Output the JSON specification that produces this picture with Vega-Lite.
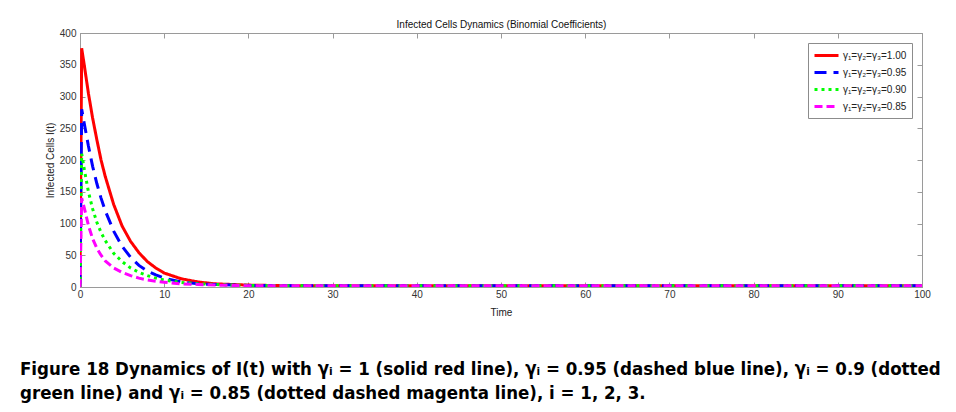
{
  "$schema": "https://vega.github.io/schema/vega-lite/v6.json",
  "width": 842,
  "height": 254,
  "autosize": {"type": "none"},
  "padding": {"left": 80, "top": 33, "right": 34, "bottom": 125},
  "background": "white",
  "config": {
    "view": {"stroke": "#9a9a9a", "strokeWidth": 1},
    "axis": {
      "labelFont": "Liberation Sans",
      "labelFontSize": 10,
      "labelColor": "#333333",
      "labelFlush": false,
      "titleFont": "Liberation Sans",
      "titleFontSize": 10,
      "titleFontWeight": "normal",
      "titleColor": "#222222",
      "domainColor": "#9a9a9a",
      "tickColor": "#9a9a9a",
      "grid": false
    }
  },
  "title": {
    "text": [
      "Figure 18  Dynamics of I(t) with γᵢ = 1 (solid red line), γᵢ = 0.95 (dashed blue line), γᵢ = 0.9 (dotted",
      "green line) and γᵢ = 0.85 (dotted dashed magenta line), i = 1, 2, 3."
    ],
    "orient": "bottom",
    "anchor": "start",
    "frame": "group",
    "offset": 43,
    "dx": -60,
    "font": "DejaVu Sans Condensed, Liberation Sans",
    "fontSize": 18.5,
    "fontWeight": "bold",
    "color": "#000000",
    "lineHeight": 24
  },
  "data": {
    "values": [
      {"g": "1.00", "t": 0, "I": 0}, {"g": "1.00", "t": 0.2, "I": 376}, {"g": "1.00", "t": 0.5, "I": 350}, {"g": "1.00", "t": 1, "I": 305}, {"g": "1.00", "t": 1.5, "I": 266}, {"g": "1.00", "t": 2, "I": 232}, {"g": "1.00", "t": 2.5, "I": 200}, {"g": "1.00", "t": 3, "I": 174}, {"g": "1.00", "t": 4, "I": 130}, {"g": "1.00", "t": 5, "I": 96}, {"g": "1.00", "t": 6, "I": 72}, {"g": "1.00", "t": 7, "I": 54}, {"g": "1.00", "t": 8, "I": 40}, {"g": "1.00", "t": 9, "I": 30}, {"g": "1.00", "t": 10, "I": 22}, {"g": "1.00", "t": 12, "I": 13}, {"g": "1.00", "t": 14, "I": 8}, {"g": "1.00", "t": 16, "I": 5}, {"g": "1.00", "t": 18, "I": 4}, {"g": "1.00", "t": 20, "I": 3}, {"g": "1.00", "t": 25, "I": 2}, {"g": "1.00", "t": 30, "I": 2}, {"g": "1.00", "t": 40, "I": 2}, {"g": "1.00", "t": 50, "I": 2}, {"g": "1.00", "t": 60, "I": 2}, {"g": "1.00", "t": 70, "I": 2}, {"g": "1.00", "t": 80, "I": 2}, {"g": "1.00", "t": 90, "I": 2}, {"g": "1.00", "t": 100, "I": 2},
      {"g": "0.95", "t": 0, "I": 0}, {"g": "0.95", "t": 0.2, "I": 280}, {"g": "0.95", "t": 0.5, "I": 258}, {"g": "0.95", "t": 1, "I": 222}, {"g": "0.95", "t": 1.5, "I": 190}, {"g": "0.95", "t": 2, "I": 163}, {"g": "0.95", "t": 2.5, "I": 140}, {"g": "0.95", "t": 3, "I": 120}, {"g": "0.95", "t": 4, "I": 88}, {"g": "0.95", "t": 5, "I": 64}, {"g": "0.95", "t": 6, "I": 47}, {"g": "0.95", "t": 7, "I": 34}, {"g": "0.95", "t": 8, "I": 25}, {"g": "0.95", "t": 9, "I": 19}, {"g": "0.95", "t": 10, "I": 14}, {"g": "0.95", "t": 12, "I": 8}, {"g": "0.95", "t": 14, "I": 5}, {"g": "0.95", "t": 16, "I": 4}, {"g": "0.95", "t": 18, "I": 3}, {"g": "0.95", "t": 20, "I": 2.5}, {"g": "0.95", "t": 25, "I": 2}, {"g": "0.95", "t": 30, "I": 2}, {"g": "0.95", "t": 40, "I": 2}, {"g": "0.95", "t": 50, "I": 2}, {"g": "0.95", "t": 60, "I": 2}, {"g": "0.95", "t": 70, "I": 2}, {"g": "0.95", "t": 80, "I": 2}, {"g": "0.95", "t": 90, "I": 2}, {"g": "0.95", "t": 100, "I": 2},
      {"g": "0.90", "t": 0, "I": 0}, {"g": "0.90", "t": 0.2, "I": 210}, {"g": "0.90", "t": 0.5, "I": 186}, {"g": "0.90", "t": 1, "I": 150}, {"g": "0.90", "t": 1.5, "I": 123}, {"g": "0.90", "t": 2, "I": 102}, {"g": "0.90", "t": 2.5, "I": 86}, {"g": "0.90", "t": 3, "I": 73}, {"g": "0.90", "t": 4, "I": 53}, {"g": "0.90", "t": 5, "I": 40}, {"g": "0.90", "t": 6, "I": 30}, {"g": "0.90", "t": 7, "I": 23}, {"g": "0.90", "t": 8, "I": 18}, {"g": "0.90", "t": 9, "I": 14}, {"g": "0.90", "t": 10, "I": 11}, {"g": "0.90", "t": 12, "I": 7}, {"g": "0.90", "t": 14, "I": 5}, {"g": "0.90", "t": 16, "I": 4}, {"g": "0.90", "t": 18, "I": 3}, {"g": "0.90", "t": 20, "I": 2.5}, {"g": "0.90", "t": 25, "I": 2}, {"g": "0.90", "t": 30, "I": 2}, {"g": "0.90", "t": 40, "I": 2}, {"g": "0.90", "t": 50, "I": 2}, {"g": "0.90", "t": 60, "I": 2}, {"g": "0.90", "t": 70, "I": 2}, {"g": "0.90", "t": 80, "I": 2}, {"g": "0.90", "t": 90, "I": 2}, {"g": "0.90", "t": 100, "I": 2},
      {"g": "0.85", "t": 0, "I": 0}, {"g": "0.85", "t": 0.2, "I": 140}, {"g": "0.85", "t": 0.5, "I": 125}, {"g": "0.85", "t": 1, "I": 97}, {"g": "0.85", "t": 1.5, "I": 76}, {"g": "0.85", "t": 2, "I": 61}, {"g": "0.85", "t": 2.5, "I": 50}, {"g": "0.85", "t": 3, "I": 41}, {"g": "0.85", "t": 4, "I": 30}, {"g": "0.85", "t": 5, "I": 23}, {"g": "0.85", "t": 6, "I": 18}, {"g": "0.85", "t": 7, "I": 14}, {"g": "0.85", "t": 8, "I": 11}, {"g": "0.85", "t": 9, "I": 9}, {"g": "0.85", "t": 10, "I": 7.5}, {"g": "0.85", "t": 12, "I": 5}, {"g": "0.85", "t": 14, "I": 4}, {"g": "0.85", "t": 16, "I": 3}, {"g": "0.85", "t": 18, "I": 2.5}, {"g": "0.85", "t": 20, "I": 2}, {"g": "0.85", "t": 25, "I": 2}, {"g": "0.85", "t": 30, "I": 2}, {"g": "0.85", "t": 40, "I": 2}, {"g": "0.85", "t": 50, "I": 2}, {"g": "0.85", "t": 60, "I": 2}, {"g": "0.85", "t": 70, "I": 2}, {"g": "0.85", "t": 80, "I": 2}, {"g": "0.85", "t": 90, "I": 2}, {"g": "0.85", "t": 100, "I": 2}
    ]
  },
  "resolve": {"axis": {"x": "independent", "y": "independent"}},
  "layer": [
    {
      "mark": {"type": "line", "strokeWidth": 3, "clip": true},
      "encoding": {
        "x": {
          "field": "t", "type": "quantitative",
          "scale": {"domain": [0, 100], "nice": false},
          "axis": {"orient": "bottom", "values": [0, 10, 20, 30, 40, 50, 60, 70, 80, 90, 100], "tickSize": -5, "labelPadding": 7, "title": "Time", "titlePadding": 8}
        },
        "y": {
          "field": "I", "type": "quantitative",
          "scale": {"domain": [0, 400], "nice": false},
          "axis": {"orient": "left", "values": [0, 50, 100, 150, 200, 250, 300, 350, 400], "tickSize": -5, "labelPadding": 9, "title": "Infected Cells I(t)", "titlePadding": 4}
        },
        "color": {
          "field": "g", "type": "nominal",
          "scale": {"domain": ["1.00", "0.95", "0.90", "0.85"], "range": ["#ff0000", "#0000ff", "#00ff00", "#ff00ff"]},
          "legend": {
            "title": null, "orient": "top-right", "offset": 10,
            "labelExpr": "'γ₁=γ₂=γ₃=' + datum.label",
            "labelFont": "Liberation Sans", "labelFontSize": 10, "labelColor": "#222222",
            "symbolType": "M-1,0H3", "symbolSize": 144, "symbolStrokeWidth": 3, "labelOffset": 15,
            "strokeColor": "#8c8c8c", "fillColor": "white", "padding": 5, "rowPadding": 3
          }
        },
        "strokeDash": {
          "field": "g", "type": "nominal",
          "scale": {"domain": ["1.00", "0.95", "0.90", "0.85"], "range": [[1, 0], [12, 7], [3, 4], [8, 4]]},
          "legend": {
            "title": null, "orient": "top-right", "offset": 10,
            "labelExpr": "'γ₁=γ₂=γ₃=' + datum.label",
            "labelFont": "Liberation Sans", "labelFontSize": 10, "labelColor": "#222222",
            "symbolType": "M-1,0H3", "symbolSize": 144, "symbolStrokeWidth": 3, "labelOffset": 15,
            "strokeColor": "#8c8c8c", "fillColor": "white", "padding": 5, "rowPadding": 3
          }
        }
      }
    },
    {
      "mark": {"type": "point", "opacity": 0},
      "encoding": {
        "x": {
          "field": "t", "type": "quantitative",
          "axis": {"orient": "top", "values": [0, 10, 20, 30, 40, 50, 60, 70, 80, 90, 100], "tickSize": -5, "labels": false, "title": "Infected Cells Dynamics (Binomial Coefficients)", "titlePadding": 3, "titleColor": "#111111"}
        },
        "y": {
          "field": "I", "type": "quantitative",
          "axis": {"orient": "right", "values": [0, 50, 100, 150, 200, 250, 300, 350, 400], "tickSize": -5, "labels": false, "title": null}
        }
      }
    }
  ]
}
